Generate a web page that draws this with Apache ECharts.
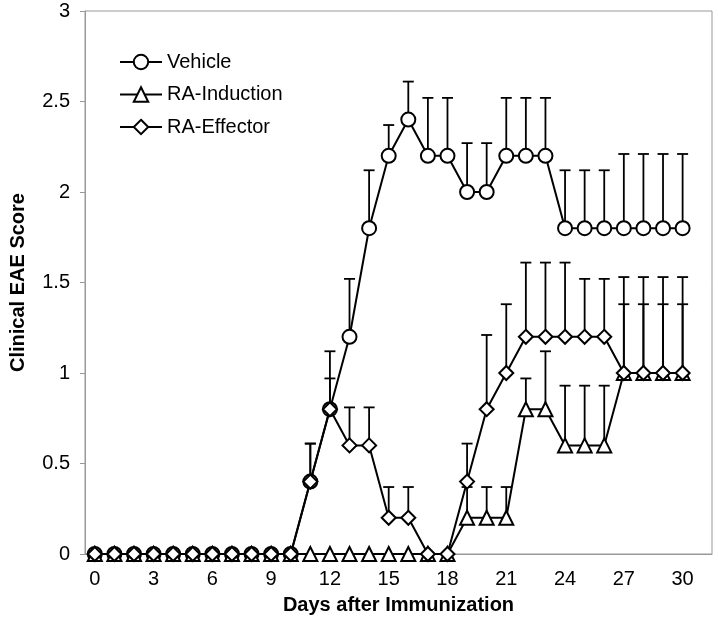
<!DOCTYPE html>
<html lang="en">
<head>
    <meta charset="UTF-8">
    <title>Clinical EAE Score</title>
    <script src="https://cdn.jsdelivr.net/npm/echarts@6/dist/echarts.min.js"></script>
</head>
<body style="margin:0;background:#fff;">
    <div id="chart" style="width:718px;height:628px;"></div>
    <script>
        // days after immunization (one empty slot after day 30, as in the original)
        let days=[];
        for(let d=0;d<=31;d++){ days.push(String(d)); }

        let vehicle=[0,0,0,0,0,0,0,0,0,0,0,0.4,0.8,1.2,1.8,2.2,2.4,2.2,2.2,2.0,2.0,2.2,2.2,2.2,1.8,1.8,1.8,1.8,1.8,1.8,1.8];
        let vehicleErr=[0,0,0,0,0,0,0,0,0,0,0,0.21,0.32,0.32,0.32,0.17,0.21,0.32,0.32,0.27,0.27,0.32,0.32,0.32,0.32,0.32,0.32,0.41,0.41,0.41,0.41];

        let induction=[0,0,0,0,0,0,0,0,0,0,0,0,0,0,0,0,0,0,0,0.2,0.2,0.2,0.8,0.8,0.6,0.6,0.6,1.0,1.0,1.0,1.0];
        let inductionErr=[0,0,0,0,0,0,0,0,0,0,0,0,0,0,0,0,0,0,0,0.17,0.17,0.17,0.17,0.32,0.33,0.33,0.33,0.38,0.38,0.38,0.38];

        let effector=[0,0,0,0,0,0,0,0,0,0,0,0.4,0.8,0.6,0.6,0.2,0.2,0,0,0.4,0.8,1.0,1.2,1.2,1.2,1.2,1.2,1.0,1.0,1.0,1.0];
        let effectorErr=[0,0,0,0,0,0,0,0,0,0,0,0.21,0.17,0.21,0.21,0.17,0.17,0,0,0.21,0.41,0.38,0.41,0.41,0.41,0.32,0.32,0.53,0.53,0.53,0.53];

        let yTicks=[0,0.5,1,1.5,2,2.5,3];

        let font='"Liberation Sans", Arial, sans-serif';

        function errData(mean,err){
            let res=[];
            mean.forEach((m,i)=>{
                if(err[i]>0) res.push([i,m,m+err[i]]);
            })
            return res;
        }

        function renderErr(params,api){
            let base=api.coord([api.value(0),api.value(1)]);
            let top=api.coord([api.value(0),api.value(2)]);
            let style={stroke:'#000',lineWidth:1.8};
            return {
                type:'group',
                children:[
                    {type:'line',shape:{x1:base[0],y1:base[1],x2:top[0],y2:top[1]},style},
                    {type:'line',shape:{x1:top[0]-5.5,y1:top[1],x2:top[0]+5.5,y2:top[1]},style},
                ]
            };
        }

        function errSeries(mean,err){
            return {
                type:'custom',
                renderItem:renderErr,
                data:errData(mean,err),
                z:1,
                silent:true,
            };
        }

        function lineSeries(name,symbol,data,z){
            return {
                name,
                type:'line',
                data,
                symbol,
                symbolSize:14,
                showAllSymbol:true,
                z,
                lineStyle:{color:'#000',width:2},
                itemStyle:{color:'#fff',borderColor:'#000',borderWidth:2},
            };
        }

        let myChart=echarts.init(document.getElementById('chart'));
        myChart.setOption({
            animation:false,
            backgroundColor:'#fff',
            textStyle:{fontFamily:font},
            grid:{left:84,right:6,top:11,bottom:74,show:true,borderColor:'#999',borderWidth:1},
            legend:{
                orient:'vertical',
                left:114,
                top:47,
                itemWidth:42,
                itemHeight:18,
                itemGap:12.5,
                data:['Vehicle','RA-Induction','RA-Effector'],
                textStyle:{fontSize:20,color:'#000',fontFamily:font},
            },
            xAxis:{
                type:'category',
                data:days,
                boundaryGap:true,
                name:'Days after Immunization',
                nameLocation:'middle',
                nameGap:41,
                nameTextStyle:{fontSize:20,fontWeight:'bold',color:'#000',fontFamily:font},
                axisLine:{lineStyle:{color:'#999'}},
                axisTick:{interval:0,length:5,lineStyle:{color:'#999'}},
                axisLabel:{
                    interval:(idx)=>idx%3===0&&idx<=30,
                    fontSize:20,color:'#000',margin:15,fontFamily:font,
                },
                splitLine:{show:false},
            },
            yAxis:{
                type:'value',
                min:0,
                max:3,
                interval:0.5,
                name:'Clinical EAE Score',
                nameLocation:'middle',
                nameGap:57,
                nameTextStyle:{fontSize:20,fontWeight:'bold',color:'#000',fontFamily:font},
                axisLine:{show:true,lineStyle:{color:'#999'}},
                axisTick:{show:true,length:5,lineStyle:{color:'#999'}},
                axisLabel:{
                    fontSize:20,color:'#000',margin:15,fontFamily:font,
                    formatter:(v)=>yTicks.indexOf(v)>=0?String(v):'',
                },
                splitLine:{show:false},
            },
            series:[
                errSeries(vehicle,vehicleErr),
                errSeries(induction,inductionErr),
                errSeries(effector,effectorErr),
                lineSeries('Vehicle','circle',vehicle,2),
                lineSeries('RA-Induction','triangle',induction,3),
                lineSeries('RA-Effector','diamond',effector,4),
            ],
        });
    </script>
</body>
</html>
